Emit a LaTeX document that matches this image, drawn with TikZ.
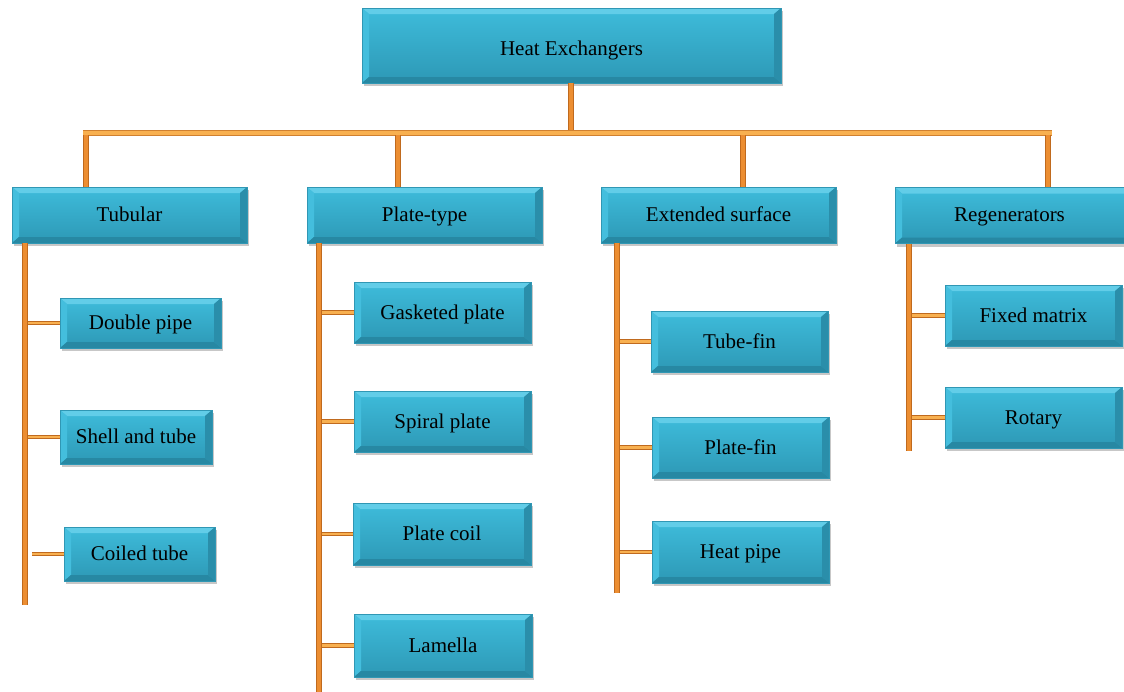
\documentclass[tikz,border=0pt]{standalone}
\usepackage{fontspec}
\setmainfont{Liberation Serif}
\usetikzlibrary{shadows}
\definecolor{boxTop}{HTML}{3EBCDB}
\definecolor{boxBot}{HTML}{2D98B5}
\definecolor{bevTop}{HTML}{62CDE8}
\definecolor{bevLeft}{HTML}{44BEDD}
\definecolor{bevBot}{HTML}{2788A3}
\definecolor{bevRight}{HTML}{2A8EAA}
\definecolor{boxLine}{HTML}{3097B4}
\definecolor{orD}{HTML}{C06A1E}
\definecolor{orL}{HTML}{EC8E32}
\definecolor{barD}{HTML}{D08030}
\definecolor{barL}{HTML}{F8B050}
\tikzset{
  box/.style={draw=boxLine, line width=0.6pt, top color=boxTop, bottom color=boxBot,
    inner sep=0pt, align=center, font=\fontsize{21}{24}\selectfont,
    text height=18pt, text depth=4.5pt,
    drop shadow={shadow xshift=2pt, shadow yshift=-3pt, opacity=0.22, fill=black},
    path picture={
      \fill[bevTop] (path picture bounding box.north west) -- (path picture bounding box.north east)
        -- ([xshift=-7pt,yshift=-6pt]path picture bounding box.north east)
        -- ([xshift=7pt,yshift=-6pt]path picture bounding box.north west) -- cycle;
      \fill[bevLeft] (path picture bounding box.north west) -- ([xshift=7pt,yshift=-6pt]path picture bounding box.north west)
        -- ([xshift=7pt,yshift=6pt]path picture bounding box.south west) -- (path picture bounding box.south west) -- cycle;
      \fill[bevBot] (path picture bounding box.south west) -- (path picture bounding box.south east)
        -- ([xshift=-7pt,yshift=6pt]path picture bounding box.south east)
        -- ([xshift=7pt,yshift=6pt]path picture bounding box.south west) -- cycle;
      \fill[bevRight] (path picture bounding box.north east) -- ([xshift=-7pt,yshift=-6pt]path picture bounding box.north east)
        -- ([xshift=-7pt,yshift=6pt]path picture bounding box.south east) -- (path picture bounding box.south east) -- cycle;
    }},
  lvl0/.style={box, minimum width=419pt, minimum height=75pt, text height=24pt},
  lvl1/.style={box, minimum width=235pt, minimum height=56pt, text height=17pt},
  lvl2/.style={box, minimum width=177pt, minimum height=61pt},
  spine/.style={preaction={draw=orD, line width=6pt}, draw=orL, line width=4pt},
  branch/.style={preaction={draw=orD, line width=4.5pt}, draw=barL, line width=2.8pt},
  hbar/.style={preaction={draw=barD, line width=5.5pt}, draw=barL, line width=3.5pt}
}
\begin{document}
\begin{tikzpicture}[x=1pt,y=-1pt]
\useasboundingbox (0,0) rectangle (1124,691);
\clip (0,0) rectangle (1124,691);
\fill[white] (0,0) rectangle (1124,691);

% junction coordinates
\coordinate (bL) at (83,133);
\coordinate (bR) at (1052,133);
\coordinate (bM) at (571,133);
\coordinate (d1) at (86,133);
\coordinate (d2) at (398,133);
\coordinate (d3) at (743,133);
\coordinate (d4) at (1048,133);
\coordinate (s1) at (25,605);
\coordinate (s2) at (319,695);
\coordinate (s3) at (617,593);
\coordinate (s4) at (909,451);

% root box
\node[lvl0] (root) at (571.5,45.5) {Heat Exchangers};

% level 1 boxes
\node[lvl1] (tub) at (129.5,215) {Tubular};
\node[lvl1] (pla) at (424.5,215) {Plate-type};
\node[lvl1] (ext) at (718.5,215) {Extended surface};
\node[lvl1, minimum width=255pt] (reg) at (1022.5,215.5) {\hspace*{-26pt}Regenerators};

% upper connectors
\draw[spine] (bM |- root.south) -- (bM);
\draw[hbar] (bL) -- (bR);
\draw[spine] ([yshift=-2pt]d1) -- (d1 |- tub.north);
\draw[spine] ([yshift=-2pt]d2) -- (d2 |- pla.north);
\draw[spine] ([yshift=-2pt]d3) -- (d3 |- ext.north);
\draw[spine] ([yshift=-2pt]d4) -- (d4 |- reg.north);

% spines
\draw[spine] (s1 |- tub.south) -- (s1);
\draw[spine] (s2 |- pla.south) -- (s2);
\draw[spine] (s3 |- ext.south) -- (s3);
\draw[spine] (s4 |- reg.south) -- (s4);

% children nodes
\node[box, minimum width=161pt, minimum height=50pt] (dp) at (140.5,323) {Double pipe};
\node[box, minimum width=152pt, minimum height=54pt] (st) at (136,437) {Shell and tube};
\node[box, minimum width=151pt, minimum height=54pt] (ct) at (139.5,554) {Coiled tube};

\node[lvl2] (gp) at (442.5,312.5) {Gasketed plate};
\node[lvl2] (sp) at (442.5,421.5) {Spiral plate};
\node[lvl2, minimum width=178pt, minimum height=62pt] (pc) at (442,534) {Plate coil};
\node[lvl2, minimum width=178pt, minimum height=63pt] (la) at (443,645.5) {Lamella};

\node[lvl2] (tf) at (739.5,341.5) {Tube-fin};
\node[lvl2] (pf) at (740.5,447.5) {Plate-fin};
\node[lvl2, minimum height=62pt] (hp) at (740.5,552) {Heat pipe};

\node[lvl2] (fm) at (1033.5,315.5) {Fixed matrix};
\node[lvl2] (ro) at (1033.5,417.5) {Rotary};

% branches
\draw[branch] ([xshift=3pt]s1 |- dp.west) -- (dp.west);
\draw[branch] ([xshift=3pt]s1 |- st.west) -- (st.west);
\draw[branch] ([xshift=7pt]s1 |- ct.west) -- (ct.west);
\draw[branch] ([xshift=3pt]s2 |- gp.west) -- (gp.west);
\draw[branch] ([xshift=3pt]s2 |- sp.west) -- (sp.west);
\draw[branch] ([xshift=3pt]s2 |- pc.west) -- (pc.west);
\draw[branch] ([xshift=3pt]s2 |- la.west) -- (la.west);
\draw[branch] ([xshift=3pt]s3 |- tf.west) -- (tf.west);
\draw[branch] ([xshift=3pt]s3 |- pf.west) -- (pf.west);
\draw[branch] ([xshift=3pt]s3 |- hp.west) -- (hp.west);
\draw[branch] ([xshift=3pt]s4 |- fm.west) -- (fm.west);
\draw[branch] ([xshift=3pt]s4 |- ro.west) -- (ro.west);
\end{tikzpicture}
\end{document}
